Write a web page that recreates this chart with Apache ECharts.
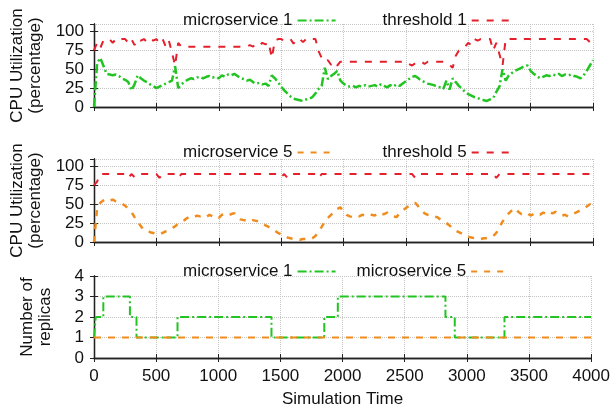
<!DOCTYPE html>
<html>
<head>
<meta charset="utf-8">
<script src="https://cdn.jsdelivr.net/npm/echarts@6/dist/echarts.min.js"></script>
<style>
  html, body { margin: 0; padding: 0; background: #fff; }
  #chart { width: 613px; height: 413px; }
</style>
</head>
<body>
<div id="chart"></div>
<script>
// samples every 25 time units, 0..4000
var sampleStep = 25;

var ms1Cpu = [
  0, 58, 65, 55, 44, 43, 42, 43,
  41, 38, 36, 33, 22, 30, 42, 38,
  35, 33, 30, 28, 25, 27, 29, 31,
  33, 35, 54, 25, 30, 33, 36, 38,
  37, 39, 40, 38, 40, 41, 39, 40,
  38, 42, 40, 43, 42, 44, 41, 38,
  37, 35, 36, 33, 31, 32, 30, 31,
  28, 42, 38, 33, 27, 22, 18, 14,
  11, 10, 9, 8, 10, 11, 13, 18,
  24, 28, 52, 37, 41, 44, 48, 35,
  31, 28, 27, 28, 26, 28, 27, 29,
  27, 28, 29, 27, 30, 28, 26, 29,
  27, 30, 28, 31, 34, 37, 40, 41,
  38, 35, 33, 31, 30, 29, 27, 26,
  24, 35, 23, 38, 33, 28, 24, 20,
  17, 15, 13, 12, 10, 9, 8, 10,
  12, 20, 27, 50, 35, 42, 45, 48,
  50, 52, 54, 55, 48, 44, 41, 38,
  40, 42, 41, 43, 42, 44, 41, 43,
  42, 43, 41, 40, 38, 42, 48, 55,
  62
];

var threshold1 = [
  75, 85, 78, 88, 90, 90, 85, 90,
  88, 90, 90, 85, 90, 82, 90, 88,
  90, 86, 90, 88, 90, 85, 90, 80,
  88, 72, 55, 85, 80, 80, 80, 80,
  80, 80, 80, 80, 80, 80, 80, 80,
  80, 80, 80, 80, 80, 80, 80, 80,
  80, 80, 82, 80, 84, 82, 85, 83,
  86, 65, 88, 90, 90, 88, 90, 90,
  84, 90, 90, 86, 90, 88, 90, 90,
  74, 65, 60, 62, 56, 60, 55, 60,
  60, 60, 60, 60, 60, 60, 60, 60,
  60, 60, 60, 60, 60, 60, 60, 60,
  60, 60, 60, 60, 60, 57, 55, 58,
  58, 60, 57, 60, 60, 60, 60, 60,
  60, 58, 56, 52, 68, 75, 78, 80,
  85, 82, 90, 88, 90, 90, 90, 90,
  75, 85, 70, 55, 90, 90, 90, 90,
  90, 88, 90, 90, 90, 90, 90, 90,
  90, 90, 90, 90, 90, 90, 90, 90,
  90, 90, 90, 90, 90, 90, 90, 86,
  88
];

var ms5Cpu = [
  0, 45, 52, 55, 57, 55, 56, 54,
  53, 51, 48, 44, 40, 33, 27, 21,
  16, 15, 13, 12, 11, 10, 12, 14,
  16, 18, 21, 24, 27, 29, 32, 34,
  33, 35, 34, 35, 33, 36, 34, 35,
  32, 36, 37, 35, 37, 38, 33, 30,
  29, 28, 27, 29, 28, 27, 24, 22,
  20, 17, 15, 12, 10, 8, 6, 5,
  4, 4, 3, 4, 4, 4, 5, 8,
  14, 20, 27, 32, 36, 40, 44, 46,
  40, 36, 34, 33, 35, 34, 36, 35,
  37, 36, 35, 38, 36, 37, 39, 36,
  34, 33, 38, 42, 45, 48, 50, 52,
  47, 42, 38, 36, 35, 33, 33, 30,
  27, 25, 22, 18, 15, 13, 11, 9,
  7, 6, 5, 5, 4, 5, 5, 6,
  8, 12, 20, 27, 33, 38, 42, 45,
  40, 37, 36, 38, 35, 37, 38, 36,
  39, 37, 40, 38, 40, 37, 35, 36,
  34, 36, 38, 40, 42, 44, 47, 50,
  48
];

var threshold5 = [
  75, 80, 90, 90, 90, 90, 90, 90,
  90, 90, 90, 85, 90, 86, 90, 90,
  90, 90, 90, 90, 90, 85, 90, 90,
  90, 90, 90, 85, 90, 90, 90, 90,
  90, 90, 90, 90, 90, 90, 90, 90,
  90, 90, 90, 90, 90, 90, 90, 90,
  90, 90, 90, 90, 90, 90, 90, 90,
  90, 90, 90, 90, 86, 90, 85, 90,
  90, 90, 90, 90, 90, 90, 90, 90,
  85, 90, 90, 90, 90, 90, 90, 90,
  90, 90, 90, 90, 90, 90, 90, 90,
  90, 90, 90, 90, 90, 90, 90, 90,
  90, 90, 90, 90, 90, 90, 90, 85,
  90, 90, 90, 90, 90, 90, 90, 90,
  90, 90, 90, 90, 90, 90, 90, 90,
  90, 90, 90, 90, 90, 90, 90, 90,
  90, 85, 90, 90, 90, 90, 90, 90,
  90, 90, 90, 90, 90, 90, 90, 90,
  90, 90, 90, 90, 90, 90, 90, 90,
  90, 90, 90, 90, 90, 90, 90, 90,
  90
];

// replica counts: value holds from that time until the next change
var replicaTimes1 = [0, 14, 75, 289, 342, 672, 1428, 1853, 1962, 2828, 2903, 3303, 4000];
var replicas1     = [1, 2, 3, 2, 1, 2, 1, 2, 3, 2, 1, 2, 2];
var replicaTimes5 = [0, 4000];
var replicas5     = [1, 1];

var timeTicks = 500;

var GREEN = '#22c422';
var RED = '#e3202c';
var ORANGE = '#f08c1e';
var FONT = 'Liberation Sans, Arial, sans-serif';

function bySample(values) {
  return values.map(function (v, i) { return [i * sampleStep, v]; });
}
function zip(xs, ys) {
  return xs.map(function (x, i) { return [x, ys[i]]; });
}

var grids = [
  { left: 94, right: 20, top: 24, height: 83 },
  { left: 94, right: 20, top: 159, height: 83 },
  { left: 94, right: 20, top: 276, height: 82 }
];

var axisLine = { show: true, lineStyle: { color: '#222', width: 1.3 } };
var tick = { show: true, inside: true, length: 4, lineStyle: { color: '#222' } };
var grid = { show: true, lineStyle: { color: '#c4c4c4', type: 'dotted', width: 1 } };
var label = {
  color: '#111', fontSize: 17, fontFamily: FONT, margin: 10,
  formatter: function (v) { return String(v); }
};

var xAxes = [], yAxes = [];
[0, 1, 2].forEach(function (g) {
  xAxes.push({
    type: 'value', gridIndex: g, min: 0, max: 4000, interval: timeTicks,
    axisLine: axisLine, axisTick: tick, splitLine: grid,
    axisLabel: g === 2 ? label : { show: false },
    name: g === 2 ? 'Simulation Time' : '',
    nameLocation: 'middle', nameGap: 33,
    nameTextStyle: { color: '#111', fontSize: 17, fontFamily: FONT }
  });
  yAxes.push({
    type: 'value', gridIndex: g, min: 0,
    max: g === 2 ? 4 : 110, interval: g === 2 ? 1 : 25,
    axisLine: axisLine, axisTick: tick, splitLine: grid,
    axisLabel: Object.assign({ showMaxLabel: g === 2 }, label),
    name: g === 2 ? 'Number of\nreplicas' : 'CPU Utilization\n(percentage)',
    nameLocation: 'middle', nameRotate: 90,
    nameGap: g === 2 ? 40 : 49,
    nameTextStyle: { color: '#111', fontSize: 17, fontFamily: FONT, lineHeight: 18 }
  });
});
// mirrored ticks on top and right
[0, 1, 2].forEach(function (g) {
  xAxes.push({
    type: 'value', gridIndex: g, position: 'top', min: 0, max: 4000, interval: timeTicks,
    axisLine: axisLine, axisTick: tick, axisLabel: { show: false }, splitLine: { show: false }
  });
  yAxes.push({
    type: 'value', gridIndex: g, position: 'right', min: 0,
    max: g === 2 ? 4 : 110, interval: g === 2 ? 1 : 25,
    axisLine: axisLine, axisTick: tick, axisLabel: { show: false }, splitLine: { show: false }
  });
});

function line(name, g, data, color, dash, width, step) {
  return {
    name: name, type: 'line', xAxisIndex: g, yAxisIndex: g,
    data: data, symbol: 'none', step: step || false,
    lineStyle: { color: color, width: width, type: dash },
    itemStyle: { color: color }
  };
}

var legendBase = {
  align: 'right', itemWidth: 38, itemHeight: 10, left: 178,
  itemStyle: { opacity: 0 },
  textStyle: { color: '#111', fontSize: 17, fontFamily: FONT }
};

var option = {
  animation: false,
  backgroundColor: '#fff',
  grid: grids,
  xAxis: xAxes,
  yAxis: yAxes,
  legend: [
    Object.assign({ top: 7, itemGap: 46, data: ['microservice 1', 'threshold 1'] }, legendBase),
    Object.assign({ top: 139, itemGap: 46, data: ['microservice 5', 'threshold 5'] }, legendBase),
    Object.assign({ top: 258, itemGap: 20, data: ['microservice 1', 'microservice 5'] }, legendBase)
  ],
  series: [
    line('microservice 1', 0, bySample(ms1Cpu), GREEN, [9, 3, 2, 3], 2.5),
    line('threshold 1', 0, bySample(threshold1), RED, [7, 8], 2),
    line('microservice 5', 1, bySample(ms5Cpu), ORANGE, [6, 7], 2.5),
    line('threshold 5', 1, bySample(threshold5), RED, [7, 8], 2),
    line('microservice 1', 2, zip(replicaTimes1, replicas1), GREEN, [9, 3, 2, 3], 2, 'end'),
    line('microservice 5', 2, zip(replicaTimes5, replicas5), ORANGE, [7, 7], 2)
  ]
};

var myChart = echarts.init(document.getElementById('chart'));
myChart.setOption(option);
</script>
</body>
</html>
